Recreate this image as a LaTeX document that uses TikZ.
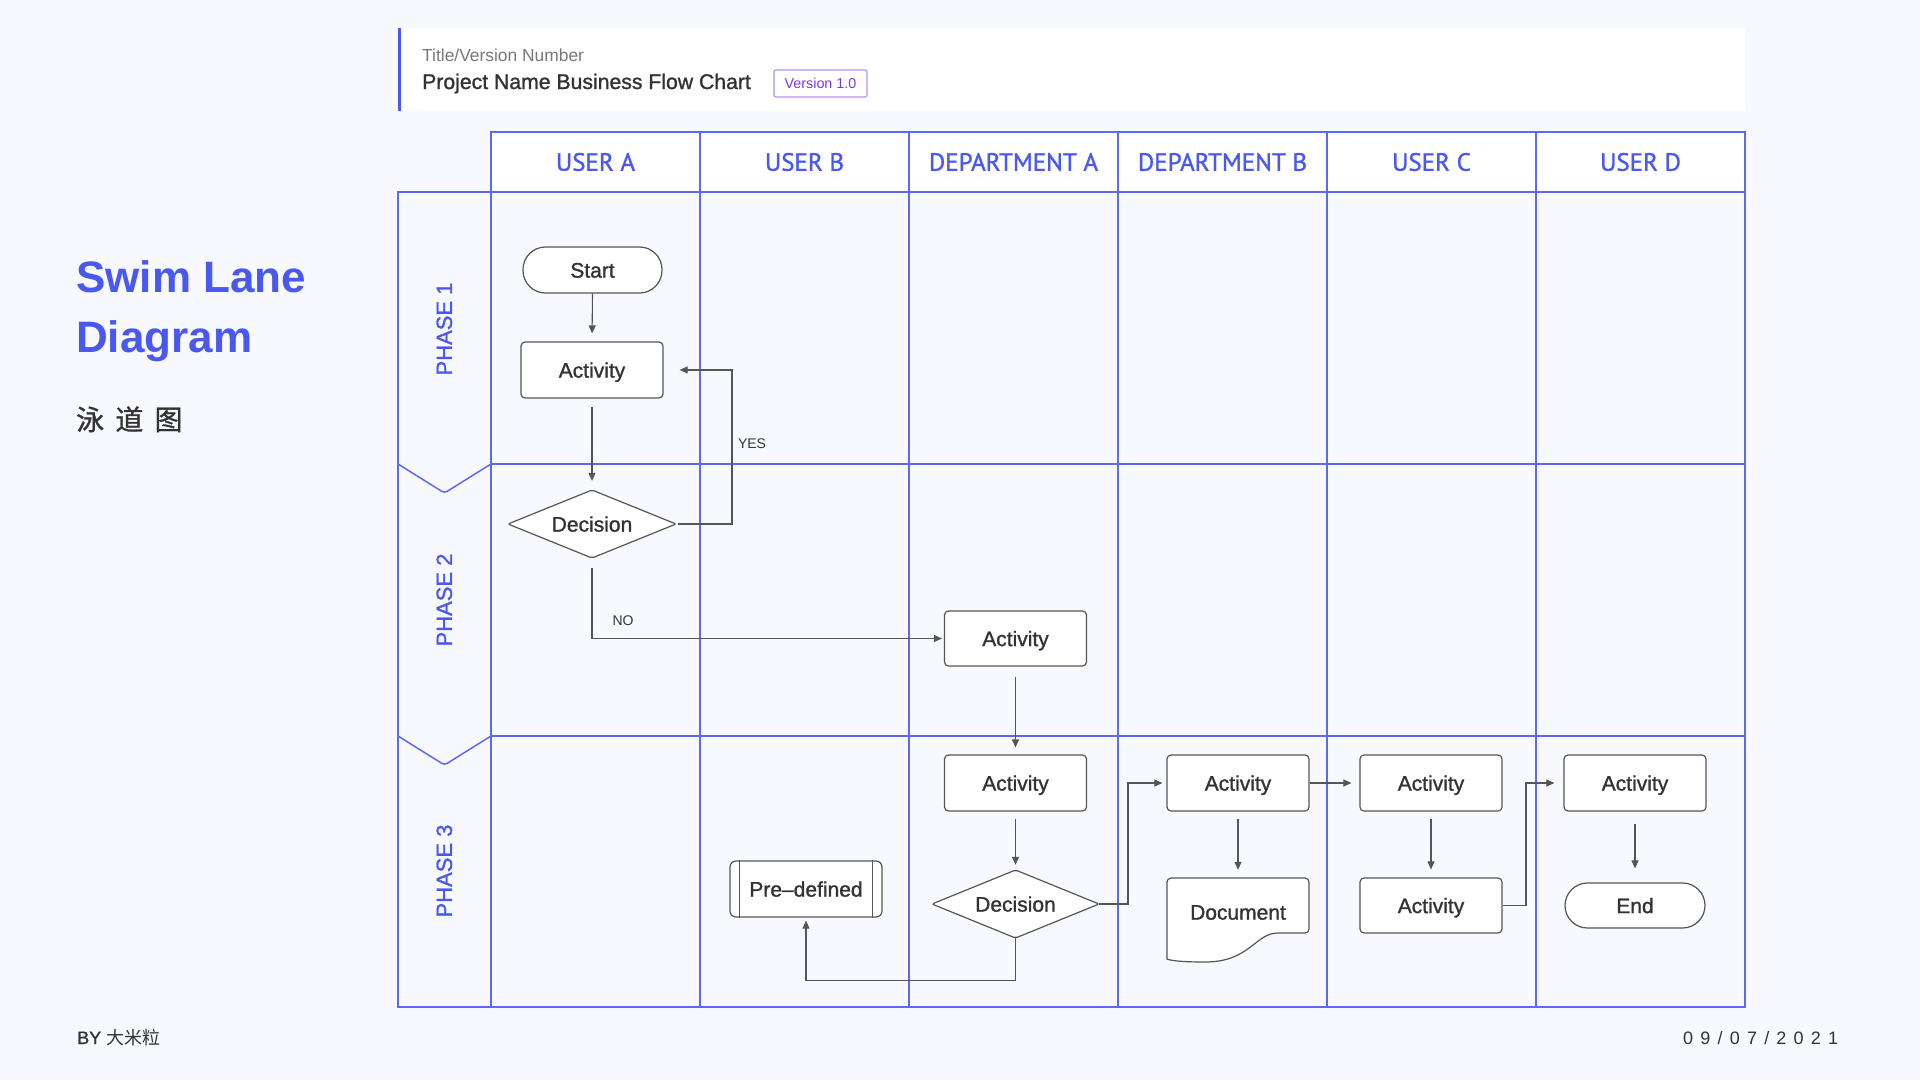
\documentclass[tikz,border=0pt]{standalone}
\usepackage{fontspec}
\setmainfont{Liberation Sans}
\newfontfamily\medfont{Liberation Sans}[FakeBold=1.2]
\newfontfamily\cjk{Noto Sans CJK SC}
\newfontfamily\cjks{Noto Sans CJK SC}[LetterSpace=40, FakeBold=1]
\newfontfamily\hdfont{PT Sans}[FakeBold=1.2]
\newfontfamily\datefont{Liberation Sans}[LetterSpace=40]
\usetikzlibrary{arrows.meta,calc}
\definecolor{bg}{RGB}{248,249,254}
\definecolor{lanecol}{RGB}{92,106,240}
\definecolor{ttl}{RGB}{74,88,238}
\definecolor{ink}{RGB}{51,51,51}
\definecolor{edgecol}{RGB}{85,85,85}
\definecolor{greytxt}{RGB}{120,120,120}
\definecolor{purp}{RGB}{122,58,230}
\definecolor{purpl}{RGB}{185,145,242}
\tikzset{
  gridline/.style={draw=lanecol, line width=1.5pt},
  nodetxt/.style={font=\medfont\fontsize{21}{25}\selectfont, text=ink, text height=15.2pt, text depth=0pt, inner sep=0pt},
  proc/.style={nodetxt, draw=edgecol, line width=1.2pt, fill=white, rounded corners=4pt, minimum width=142pt, minimum height=56pt},
  term/.style={proc, rounded corners=22.5pt, minimum width=139pt, minimum height=46pt},
  shp/.style={draw=edgecol, line width=1.2pt, fill=white},
  plain/.style={nodetxt},
  conn/.style={draw=edgecol, line width=1.1pt, -{Triangle[length=8pt,width=7pt]}},
  lbl/.style={font=\fontsize{14}{16}\selectfont, text=ink, inner sep=0pt},
  hdr/.style={font=\hdfont\fontsize{25}{28}\selectfont, text=ttl, text height=17.5pt, text depth=0pt, inner sep=0pt},
  phase/.style={font=\medfont\fontsize{22}{26}\selectfont, text=ttl, rotate=90, text height=15.8pt, text depth=0pt, inner sep=0pt}
}
\begin{document}
\begin{tikzpicture}[x=1pt,y=-1pt]
\fill[bg] (0,0) rectangle (1920,1080);
\useasboundingbox (0,0) rectangle (1920,1080);

% title box
\fill[white] (398,28) rectangle (1745,111);
\fill[ttl] (398,28) rectangle (401,111);
\node[anchor=base west, font=\fontsize{17.4}{20}\selectfont, text=greytxt, inner sep=0pt] (tsub) at (422,61.5) {Title/Version Number};
\node[anchor=base west, font=\medfont\fontsize{21.2}{25}\selectfont, text=ink, inner sep=0pt] (tmain) at (422,89) {Project Name Business Flow Chart};
\node[draw=purpl, line width=1.2pt, rounded corners=2pt, minimum width=93pt, minimum height=27pt, inner sep=0pt, font=\fontsize{14.3}{16}\selectfont, text=purp, text height=10.2pt, text depth=0pt] (ver) at (820.5,83.5) {Version 1.0};

% left texts
\node[anchor=base west, font=\bfseries\fontsize{44}{50}\selectfont, text=ttl, inner sep=0pt] (sw1) at (76,292) {Swim Lane};
\node[anchor=base west, font=\bfseries\fontsize{44}{50}\selectfont, text=ttl, inner sep=0pt] (sw2) at (76,352) {Diagram};
\node[anchor=base west, font=\cjks\fontsize{28}{32}\selectfont, text=ink, inner sep=0pt] (cn) at (76,430) {泳道图};
\node[anchor=base west, font=\medfont\fontsize{18}{20}\selectfont, text=ink, inner sep=0pt] (by) at (77,1044) {BY {\cjk 大米粒}};
\node[anchor=base west, font=\datefont\fontsize{18}{20}\selectfont, text=ink, inner sep=0pt] (date) at (1683,1044) {09/07/2021};

% grid
\fill[white] (491,132) rectangle (1745,192);
\draw[gridline] (491,132) rectangle (1745,1007);
\draw[gridline] (491,192) -- (1745,192);
\draw[gridline] (491,464) -- (1745,464);
\draw[gridline] (491,736) -- (1745,736);
\foreach \x in {700,909,1118,1327,1536} \draw[gridline] (\x,132) -- (\x,1007);
\draw[gridline] (491,192) -- (398,192) -- (398,1007) -- (491,1007);
\draw[gridline, rounded corners=3pt] (398,464) -- (444.5,493) -- (491,464);
\draw[gridline, rounded corners=3pt] (398,736) -- (444.5,765) -- (491,736);

% headers
\node[hdr] (h1) at (595.5,162) {USER A};
\node[hdr] (h2) at (804.5,162) {USER B};
\node[hdr] (h3) at (1013.5,162) {DEPARTMENT A};
\node[hdr] (h4) at (1222.5,162) {DEPARTMENT B};
\node[hdr] (h5) at (1431.5,162) {USER C};
\node[hdr] (h6) at (1640.5,162) {USER D};

% phases
\node[phase] (p1) at (444,329) {PHASE 1};
\node[phase] (p2) at (444,600) {PHASE 2};
\node[phase] (p3) at (444,871) {PHASE 3};

% nodes
\node[term] (start) at (592.5,270) {Start};
\node[proc] (act1) at (592,370) {Activity};
\coordinate (d1c) at (592,524);
\draw[shp, rounded corners=2pt] ($(d1c)+(-84,0)$) -- ($(d1c)+(0,-34)$) -- ($(d1c)+(84,0)$) -- ($(d1c)+(0,34)$) -- cycle;
\node[plain, minimum width=168pt, minimum height=68pt] (dec1) at (d1c) {Decision};
\node[proc, minimum height=55pt] (act2) at (1015.5,638.5) {Activity};
\node[proc] (act3) at (1015.5,783) {Activity};
\coordinate (d2c) at (1015.5,904);
\draw[shp, rounded corners=2pt] ($(d2c)+(-83.5,0)$) -- ($(d2c)+(0,-34)$) -- ($(d2c)+(83.5,0)$) -- ($(d2c)+(0,34)$) -- cycle;
\node[plain, minimum width=167pt, minimum height=68pt] (dec2) at (d2c) {Decision};
\node[proc, rounded corners=6pt, minimum width=152pt] (pre) at (806,889) {Pre–defined};
\draw[draw=edgecol, line width=1.2pt] ($(pre.north west)+(10,0)$) -- ($(pre.south west)+(10,0)$);
\draw[draw=edgecol, line width=1.2pt] ($(pre.north east)+(-10,0)$) -- ($(pre.south east)+(-10,0)$);
\node[proc] (act4) at (1238,783) {Activity};
\draw[shp] (1282,933) .. controls (1255,933) and (1250,962) .. (1205,962) .. controls (1185,962) and (1172,961) .. (1167,959) [rounded corners=4pt] -- (1167,878) -- (1309,878) -- (1309,933) -- cycle;
\node[plain, minimum width=142pt, minimum height=68pt] (doc) at (1238,912) {Document};
\node[proc] (act5) at (1431,783) {Activity};
\node[proc, minimum height=55pt] (act6) at (1431,905.5) {Activity};
\node[proc] (act7) at (1635,783) {Activity};
\node[term, minimum width=140pt, minimum height=45pt] (endn) at (1635,905.5) {End};

% connectors
\coordinate (yx) at (732,0);
\coordinate (bx1) at (1128,0);
\coordinate (bx2) at (1526,0);
\draw[conn, shorten >=8pt] (start.south) -- (act1.north);
\draw[conn, shorten <=8pt, shorten >=9pt] (act1.south) -- (dec1.north);
\draw[conn, shorten <=2pt, shorten >=16pt] (dec1.east) -- (dec1.east -| yx) |- (act1.east);
\node[lbl] (yes) at (752,444) {YES};
\draw[conn, shorten <=10pt, shorten >=2pt] (dec1.south) |- (act2.west);
\node[lbl] (no) at (623,621) {NO};
\draw[conn, shorten <=10pt, shorten >=7pt] (act2.south) -- (act3.north);
\draw[conn, shorten <=7pt, shorten >=5pt] (act3.south) -- (dec2.north);
\draw[conn, shorten >=3pt] (dec2.south) -- ++(0,42) -| (pre.south);
\draw[conn, shorten >=4pt] (dec2.east) -- (dec2.east -| bx1) |- (act4.west);
\draw[conn, shorten >=8pt] (act4.east) -- (act5.west);
\draw[conn, shorten <=7pt, shorten >=8pt] (act4.south) -- (doc.north);
\draw[conn, shorten <=7pt, shorten >=8pt] (act5.south) -- (act6.north);
\draw[conn, shorten >=9pt] (act6.east) -- (act6.east -| bx2) |- (act7.west);
\draw[conn, shorten <=12pt, shorten >=14pt] (act7.south) -- (endn.north);
\end{tikzpicture}
\end{document}
